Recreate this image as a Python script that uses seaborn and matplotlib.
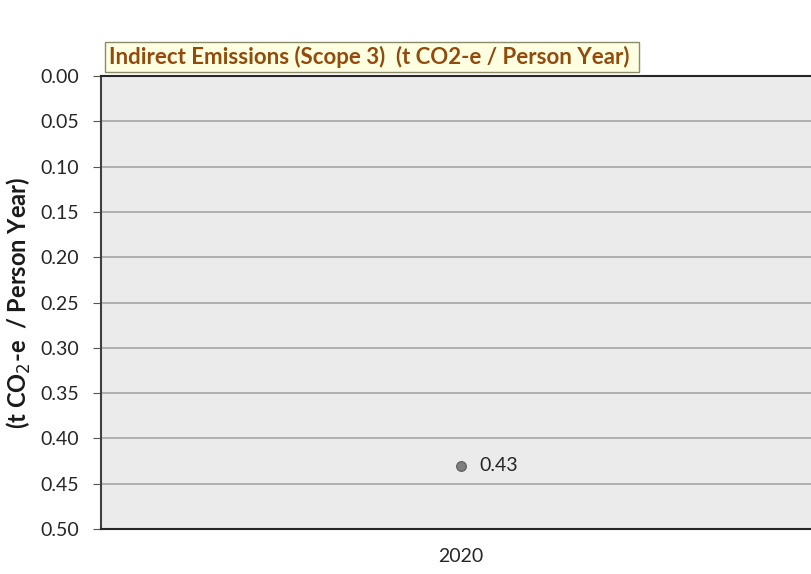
import pandas as pd
import numpy as np
import matplotlib.pyplot as plt
import seaborn as sns

# データ
years = ['2020']
emissions = [0.43]
y_ticks = [0.00, 0.05, 0.10, 0.15, 0.20, 0.25, 0.30, 0.35, 0.40, 0.45, 0.50]
title = 'Indirect Emissions (Scope 3)  (t CO2-e / Person Year)'

df = pd.DataFrame({'year': years, 'value': emissions})

sns.set_theme(style='white')
plt.rcParams['font.family'] = ['Lato', 'DejaVu Sans']

fig = plt.figure(figsize=(8.12, 5.74), dpi=100)
ax = fig.add_axes([101 / 812, 45 / 574, 720 / 812, 453 / 574])
ax.set_facecolor('#EBEBEB')

sns.stripplot(data=df, x='year', y='value', jitter=False, ax=ax,
              color='#7F7F7F', size=7, linewidth=0.8, edgecolor='#5A5A5A', zorder=5)

# 値ラベル
for x, v in zip(range(len(years)), emissions):
    ax.text(x + 0.026, v, f'{v:.2f}', va='center', ha='left', fontsize=14, color='#262626')

ax.set_ylim(0.5, 0.0)
ax.set_xlim(-0.5, 0.5)
ax.set_yticks(y_ticks)
ax.set_yticklabels([f'{t:.2f}' for t in y_ticks], fontsize=14, color='#262626')
ax.tick_params(axis='y', length=6, width=0.8, color='#555555', direction='out', left=True, pad=10)
ax.tick_params(axis='x', length=0, labelsize=14, labelcolor='#262626', pad=14)
ax.grid(axis='y', color='#A6A6A6', linewidth=1.2)
ax.set_axisbelow(True)
for s in ['top', 'bottom']:
    ax.spines[s].set_color('#262626')
    ax.spines[s].set_linewidth(1.5)
ax.spines['left'].set_color('#404040')
ax.spines['left'].set_linewidth(1.5)
ax.spines['right'].set_visible(False)

ax.set_xlabel('')
ax.set_ylabel('(t CO$_2$-e  / Person Year)', fontsize=17, fontweight='bold', color='#1a1a1a')
ax.yaxis.set_label_coords(-0.094, 0.5)

fig.text(109 / 812, 1 - 57 / 574, title + ' ', fontsize=16, fontweight='bold', color='#934A0C',
         va='center', ha='left',
         bbox=dict(boxstyle='square,pad=0.2', facecolor='#FFFFE1', edgecolor='#8C8C6A', linewidth=1))

fig.savefig('out.png', dpi=100)
